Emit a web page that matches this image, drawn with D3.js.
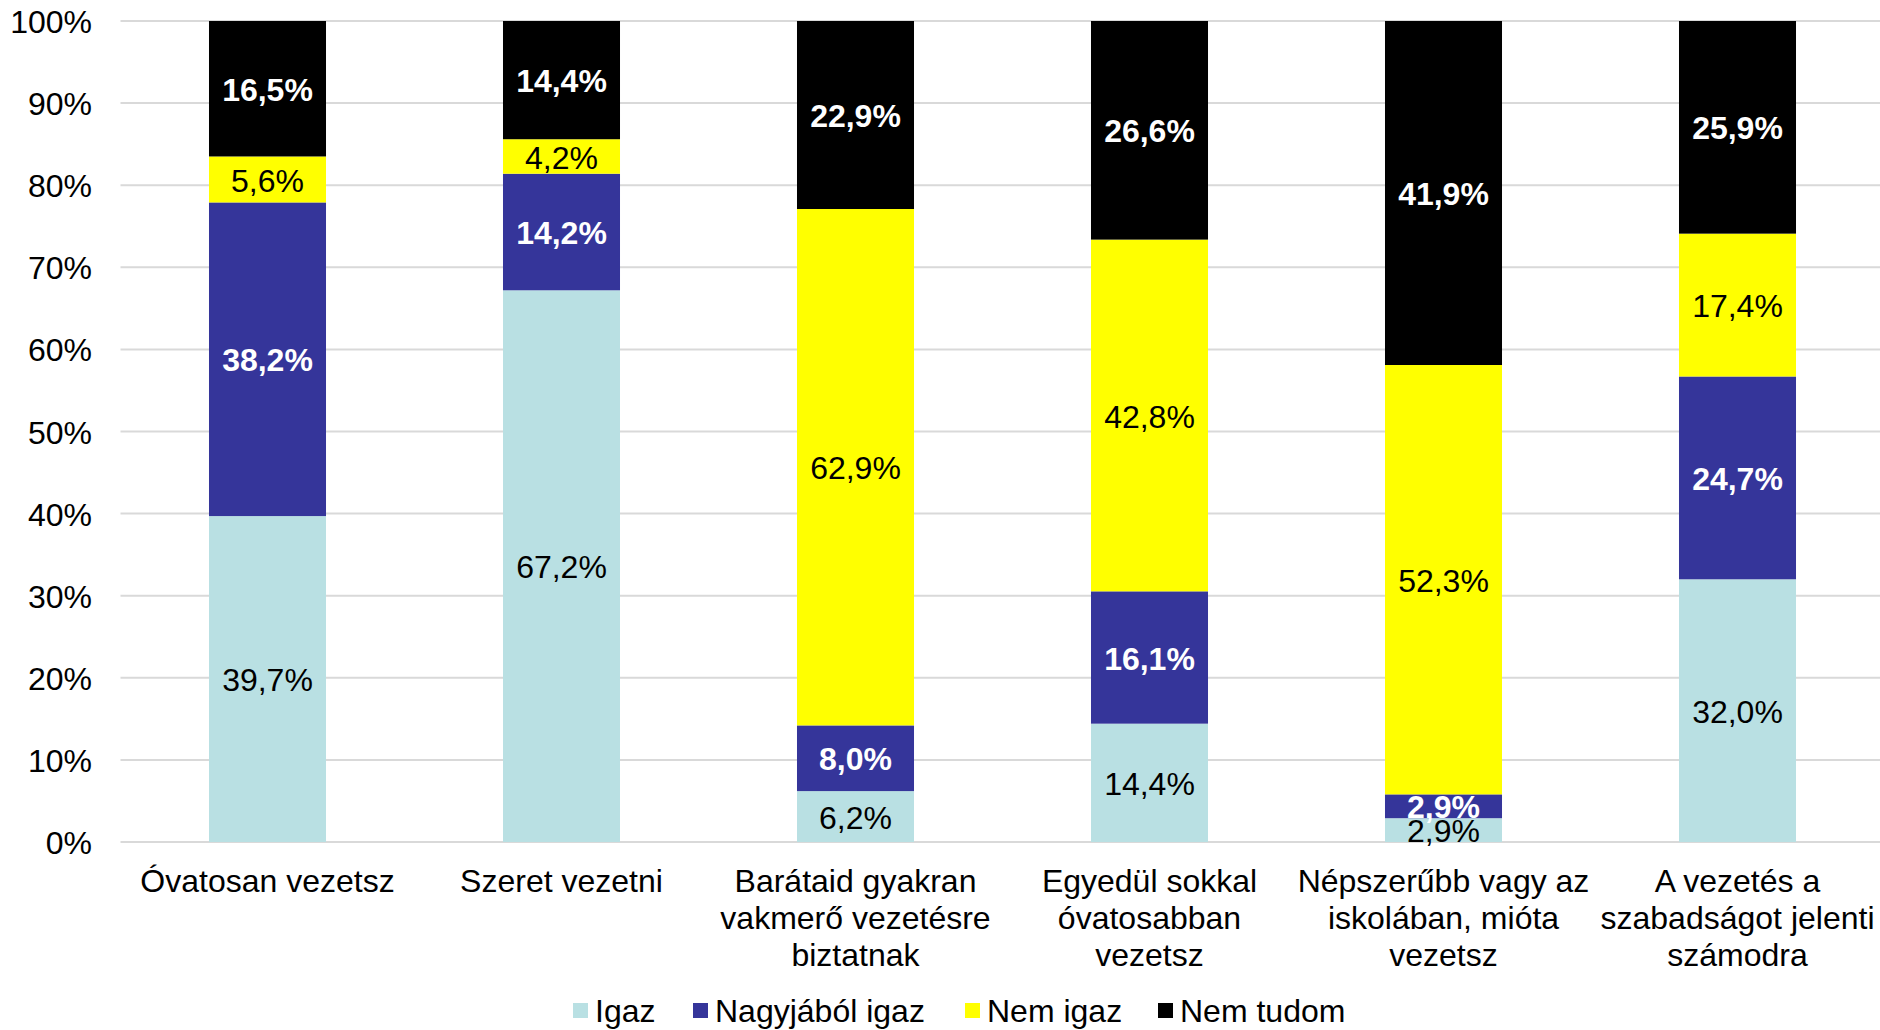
<!DOCTYPE html>
<html><head><meta charset="utf-8">
<script src="https://cdn.jsdelivr.net/npm/d3@7"></script>
<style>
html,body{margin:0;padding:0;background:#fff;}
svg{display:block;font-family:"Liberation Sans",Arial,sans-serif;}
</style></head>
<body><svg id="c" width="1880" height="1030"></svg>
<script>
const categories = [
  ["Óvatosan vezetsz"],
  ["Szeret vezetni"],
  ["Barátaid gyakran","vakmerő vezetésre","biztatnak"],
  ["Egyedül sokkal","óvatosabban","vezetsz"],
  ["Népszerűbb vagy az","iskolában, mióta","vezetsz"],
  ["A vezetés a","szabadságot jelenti","számodra"]
];
const seriesNames = ["Igaz","Nagyjából igaz","Nem igaz","Nem tudom"];
const igaz      = [39.7, 67.2, 6.2, 14.4, 2.9, 32.0];
const nagyjabol = [38.2, 14.2, 8.0, 16.1, 2.9, 24.7];
const nemIgaz   = [5.6, 4.2, 62.9, 42.8, 52.3, 17.4];
const nemTudom  = [16.5, 14.4, 22.9, 26.6, 41.9, 25.9];
const yTicks = [0,10,20,30,40,50,60,70,80,90,100];

(function(){
const colors = ["#B9E0E3","#35359A","#FFFF00","#000000"];
const labelColors = ["#000","#fff","#000","#fff"];
const labelWeights = ["normal","bold","normal","bold"];
const seriesValues = [igaz, nagyjabol, nemIgaz, nemTudom];

const rows = categories.map((c,i)=>{
  const r = {key:i};
  seriesNames.forEach((s,j)=> r[s]=seriesValues[j][i]);
  return r;
});

const svg = d3.select("#c");
const pLeft = 120.5, pRight = 1884.5, pTop = 21, pBottom = 842;
const x = d3.scaleBand().domain(d3.range(categories.length)).range([pLeft,pRight]).paddingInner(0.602).paddingOuter(0.301);
const y = d3.scaleLinear().domain([0,100]).range([pBottom, pTop]);
const FS = 32;

svg.append("g").selectAll("line").data(yTicks).join("line")
  .attr("x1", pLeft).attr("x2", 1880)
  .attr("y1", d=>y(d)).attr("y2", d=>y(d))
  .attr("stroke", "#D9D9D9").attr("stroke-width", 2);

const yAxis = d3.axisLeft(y).tickValues(yTicks).tickFormat(d=>d+"%").tickSize(0).tickPadding(0);
const ya = svg.append("g").attr("transform","translate(92,0)").call(yAxis);
ya.select(".domain").remove();
ya.selectAll("text").attr("font-size",FS).attr("fill","#000").attr("font-family","Liberation Sans, Arial, sans-serif").attr("dy","0.36em");

const stack = d3.stack().keys(seriesNames).offset(d3.stackOffsetExpand);
const stacked = stack(rows);

stacked.forEach((layer,j)=>{
  svg.append("g").selectAll("rect").data(layer).join("rect")
    .attr("x", (d,i)=>x(i))
    .attr("width", x.bandwidth())
    .attr("y", d=>y(d[1]*100))
    .attr("height", d=>y(d[0]*100)-y(d[1]*100))
    .attr("fill", colors[j]);
});
stacked.forEach((layer,j)=>{
  svg.append("g").selectAll("text").data(layer).join("text")
    .attr("x", (d,i)=>x(i)+x.bandwidth()/2)
    .attr("y", d=>y((d[0]+d[1])/2*100))
    .attr("dy","0.38em")
    .attr("text-anchor","middle")
    .attr("font-size",FS)
    .attr("font-weight",labelWeights[j])
    .attr("fill",labelColors[j])
    .text((d,i)=>seriesValues[j][i].toFixed(1).replace(".",",")+"%");
});

const xa = svg.append("g");
categories.forEach((lines,i)=>{
  const cx = x(i)+x.bandwidth()/2;
  const t = xa.append("text").attr("x", cx).attr("text-anchor","middle")
    .attr("font-size",FS).attr("fill","#000");
  lines.forEach((l,k)=>{
    t.append("tspan").attr("x", cx).attr("y", 880+k*37).attr("dy","0.36em").text(l);
  });
});

const legX = [573, 693, 965, 1158];
const lg = svg.append("g");
seriesNames.forEach((s,j)=>{
  lg.append("rect").attr("x",legX[j]).attr("y",1003).attr("width",15).attr("height",15).attr("fill",colors[j]);
  lg.append("text").attr("x",legX[j]+22).attr("y",1010).attr("dy","0.36em")
    .attr("font-size",FS).attr("fill","#000").text(s);
});
})();
</script></body></html>
